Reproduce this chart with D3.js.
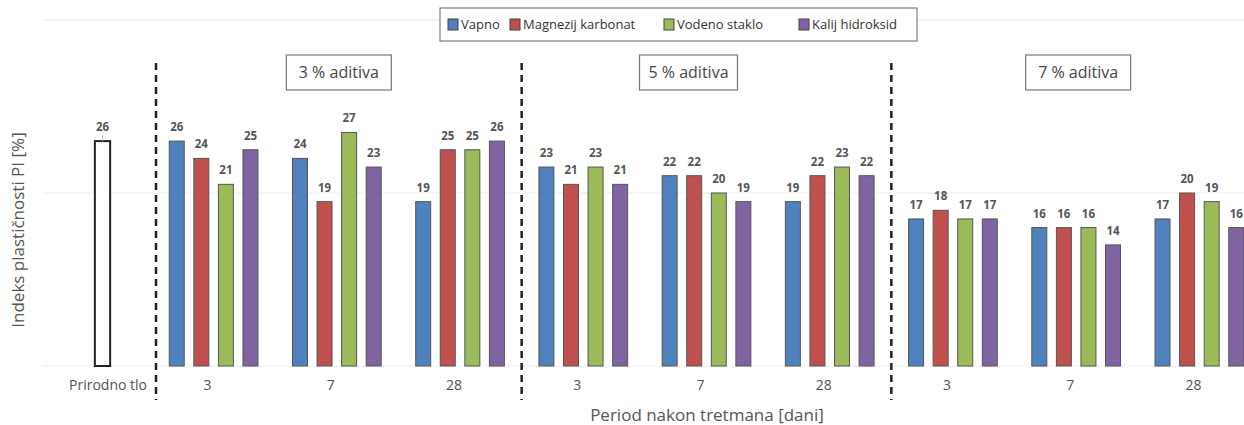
<!DOCTYPE html>
<html>
<head>
<meta charset="utf-8">
<script src="https://cdn.jsdelivr.net/npm/d3@7"></script>
<style>
  body { margin: 0; background: #fff; }
  svg { font-family: "Open Sans", "Noto Sans", sans-serif; }
</style>
</head>
<body>
<div id="chart"></div>
<script>
// Data
const series = ["Vapno", "Magnezij karbonat", "Vodeno staklo", "Kalij hidroksid"];
const colors = ["#4f81bd", "#c0504d", "#9bbb59", "#8064a2"];
const panels = ["3 % aditiva", "5 % aditiva", "7 % aditiva"];
const days = ["3", "7", "28"];
const naturalLabel = "Prirodno tlo";
const naturalValue = 26;
// one row per (panel, days), values in series order
const values = [
    [26, 24, 21, 25], [24, 19, 27, 23], [19, 25, 25, 26],
    [23, 21, 23, 21], [22, 22, 20, 19], [19, 22, 23, 22],
    [17, 18, 17, 17], [16, 16, 16, 14], [17, 20, 19, 16]
];
const yTicks = [0, 20, 40];

const width = 1244, height = 425;

const groups = [];
panels.forEach((p, pi) => days.forEach((d, di) => {
    groups.push({ key: p + "|" + d, panel: p, day: d, vals: values[pi * 3 + di] });
}));

const svg = d3.select("#chart").append("svg")
    .attr("width", width)
    .attr("height", height);

// Scales
const y = d3.scaleLinear().domain([0, 40]).range([366, 20]);

const x0 = d3.scaleBand()
    .domain(groups.map(g => g.key))
    .range([152, 1261])
    .paddingInner(0.28)
    .paddingOuter(0.14);

const x1 = d3.scaleBand()
    .domain(series)
    .range([0, x0.bandwidth()])
    .paddingInner(0.39);

const xNat = d3.scaleBand()
    .domain([naturalLabel])
    .range([48, 157])
    .paddingInner(0.86)
    .paddingOuter(0.43);

const color = d3.scaleOrdinal().domain(series).range(colors);

// Gridlines
svg.append("g")
    .selectAll("line")
    .data(yTicks)
    .join("line")
    .attr("x1", 42).attr("x2", width)
    .attr("y1", d => y(d)).attr("y2", d => y(d))
    .attr("stroke", "#ececec")
    .attr("stroke-width", 1);

// Natural soil bar
svg.append("rect")
    .attr("x", xNat(naturalLabel))
    .attr("y", y(naturalValue))
    .attr("width", xNat.bandwidth())
    .attr("height", y(0) - y(naturalValue))
    .attr("fill", "#fff")
    .attr("stroke", "#222")
    .attr("stroke-width", 2);

svg.append("line")
    .attr("x1", xNat(naturalLabel) + xNat.bandwidth() / 2)
    .attr("x2", xNat(naturalLabel) + xNat.bandwidth() / 2)
    .attr("y1", y(naturalValue) - 6)
    .attr("y2", y(naturalValue))
    .attr("stroke", "#bbb");

svg.append("text")
    .attr("x", xNat(naturalLabel) + xNat.bandwidth() / 2)
    .attr("y", y(naturalValue) - 10)
    .attr("text-anchor", "middle")
    .attr("font-size", "11.5px")
    .attr("font-weight", "bold")
    .attr("fill", "#555")
    .text(naturalValue);

// Grouped bars
const g = svg.append("g")
    .selectAll("g")
    .data(groups)
    .join("g")
    .attr("transform", d => `translate(${x0(d.key)},0)`);

g.selectAll("rect")
    .data(d => d.vals.map((v, i) => ({ s: series[i], v })))
    .join("rect")
    .attr("x", d => x1(d.s))
    .attr("y", d => y(d.v))
    .attr("width", x1.bandwidth())
    .attr("height", d => y(0) - y(d.v))
    .attr("fill", d => color(d.s))
    .attr("stroke", "#555")
    .attr("stroke-width", 1);

g.selectAll("text")
    .data(d => d.vals.map((v, i) => ({ s: series[i], v })))
    .join("text")
    .attr("x", d => x1(d.s) + x1.bandwidth() / 2)
    .attr("y", d => y(d.v) - 10)
    .attr("text-anchor", "middle")
    .attr("font-size", "11.5px")
    .attr("font-weight", "bold")
    .attr("fill", "#555")
    .text(d => d.v);

// X tick labels
svg.append("text")
    .attr("x", 147)
    .attr("y", 390)
    .attr("text-anchor", "end")
    .attr("font-size", "14px")
    .attr("fill", "#555")
    .text(naturalLabel);

svg.append("g")
    .selectAll("text")
    .data(groups)
    .join("text")
    .attr("x", d => x0(d.key) + x0.bandwidth() / 2 - 6)
    .attr("y", 390)
    .attr("text-anchor", "middle")
    .attr("font-size", "14px")
    .attr("fill", "#555")
    .text(d => d.day);

// Dashed separators at the start of each panel
const step = x0.step();
panels.forEach((p, i) => {
    const xs = x0(p + "|" + days[0]) - (step - x0.bandwidth()) / 2 + (i === 0 ? 4 : 0);
    svg.append("line")
        .attr("x1", xs).attr("x2", xs)
        .attr("y1", 63).attr("y2", 400)
        .attr("stroke", "#222")
        .attr("stroke-width", 2.5)
        .attr("stroke-dasharray", "7,5");

    // Panel label box
    const cx = x0(p + "|" + days[1]) + x0.bandwidth() / 2 + (i === 1 ? -18 : 2);
    const bw = i === 1 ? 98 : 105;
    svg.append("rect")
        .attr("x", cx - bw / 2).attr("y", 55)
        .attr("width", bw).attr("height", 35)
        .attr("fill", "#fff")
        .attr("stroke", "#777")
        .attr("stroke-width", 1.2);
    svg.append("text")
        .attr("x", cx).attr("y", 78)
        .attr("text-anchor", "middle")
        .attr("font-size", "16px")
        .attr("fill", "#444")
        .text(p);
});

// Axis titles
svg.append("text")
    .attr("transform", "translate(24,230) rotate(-90)")
    .attr("text-anchor", "middle")
    .attr("font-size", "17px")
    .attr("fill", "#555")
    .text("Indeks plastičnosti PI [%]");

svg.append("text")
    .attr("x", 707)
    .attr("y", 421)
    .attr("text-anchor", "middle")
    .attr("font-size", "17px")
    .attr("fill", "#555")
    .text("Period nakon tretmana [dani]");

// Legend
const legend = svg.append("g");
legend.append("rect")
    .attr("x", 440).attr("y", 8)
    .attr("width", 477).attr("height", 33)
    .attr("fill", "#fff")
    .attr("stroke", "#666")
    .attr("stroke-width", 1);

const legendX = [448, 510, 664, 799];
series.forEach((s, i) => {
    legend.append("rect")
        .attr("x", legendX[i]).attr("y", 19)
        .attr("width", 10).attr("height", 11)
        .attr("fill", color(s))
        .attr("stroke", "#444");
    legend.append("text")
        .attr("x", legendX[i] + 13).attr("y", 29)
        .attr("font-size", "13px")
        .attr("fill", "#333")
        .text(s);
});
</script>
</body>
</html>
